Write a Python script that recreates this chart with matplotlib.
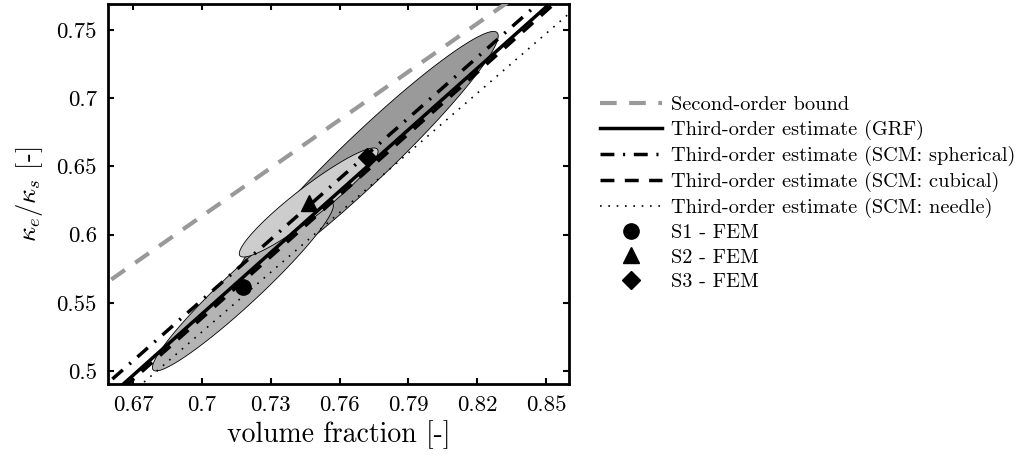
"""Effective conductivity vs volume fraction: bounds, estimates and FEM results."""

import numpy as np
import matplotlib

matplotlib.use("Agg")
import matplotlib.pyplot as plt

plt.rcParams["font.family"] = "serif"
plt.rcParams["font.serif"] = ["cmr10"]
plt.rcParams["mathtext.fontset"] = "cm"
plt.rcParams["axes.formatter.use_mathtext"] = True

# curves
x_curve = [0.65, 0.70, 0.75, 0.80, 0.85, 0.87]
second_order = [0.5548, 0.6136, 0.6724, 0.7312, 0.7900, 0.8135]
third_grf = [0.4669, 0.5419, 0.6169, 0.6919, 0.7669, 0.7969]
third_spherical = [0.4779, 0.5520, 0.6262, 0.7003, 0.7745, 0.8042]
third_cubical = [0.4639, 0.5389, 0.6139, 0.6889, 0.7639, 0.7939]
third_needle = [0.4558, 0.5287, 0.6016, 0.6745, 0.7474, 0.7766]

# FEM samples: mean point, major half-axis and minor half-axis of the spread
fem_names = ["S1 - FEM", "S2 - FEM", "S3 - FEM"]
fem_x = [0.7178, 0.7465, 0.7720]
fem_y = [0.5618, 0.6235, 0.6570]
major_dx = [0.0391, 0.0300, 0.0567]
major_dy = [0.0611, 0.0390, 0.0910]
minor_dx = [-0.0052, -0.0040, -0.0071]
minor_dy = [0.0095, 0.0088, 0.0133]
fem_markers = ["o", "^", "D"]
fem_fill = ["#b4b4b4", "#cdcdcd", "#9a9a9a"]


def ellipse(i, n=200):
    t = np.linspace(0, 2 * np.pi, n)
    ex = fem_x[i] + major_dx[i] * np.cos(t) + minor_dx[i] * np.sin(t)
    ey = fem_y[i] + major_dy[i] * np.cos(t) + minor_dy[i] * np.sin(t)
    return ex, ey


fig = plt.figure(figsize=(10.23, 4.55), dpi=100)
ax = fig.add_axes([0.1056, 0.156, 0.4506, 0.835])

# spread ellipses: S3 at the back, S1, then S2 on top
for i, z in [(2, 1), (0, 2), (1, 3)]:
    ex, ey = ellipse(i)
    ax.fill(ex, ey, facecolor=fem_fill[i], edgecolor="black", linewidth=0.6, zorder=z)

ax.plot(x_curve, second_order, color="#999999", lw=3, dashes=(4, 3),
        label="Second-order bound", zorder=5)
ax.plot(x_curve, third_grf, color="black", lw=2.5,
        label="Third-order estimate (GRF)", zorder=6)
ax.plot(x_curve, third_spherical, color="black", lw=2.5, dashes=(4, 2.5, 0.6, 2.5),
        label="Third-order estimate (SCM: spherical)", zorder=6)
ax.plot(x_curve, third_cubical, color="black", lw=2.5, dashes=(4, 3),
        label="Third-order estimate (SCM: cubical)", zorder=6)
ax.plot(x_curve, third_needle, color="black", lw=1.2, dashes=(1, 4),
        label="Third-order estimate (SCM: needle)", zorder=6)

for i in range(3):
    ax.plot(fem_x[i], fem_y[i], marker=fem_markers[i], color="black",
            markersize=11 if fem_markers[i] != "D" else 9, linestyle="none",
            label=fem_names[i], zorder=8)

ax.set_xlim(0.659, 0.86)
ax.set_ylim(0.4904, 0.769)
ax.set_xticks([0.67, 0.70, 0.73, 0.76, 0.79, 0.82, 0.85])
ax.set_xticklabels(["0.67", "0.7", "0.73", "0.76", "0.79", "0.82", "0.85"])
ax.set_yticks([0.5, 0.55, 0.6, 0.65, 0.7, 0.75])
ax.set_yticklabels(["0.5", "0.55", "0.6", "0.65", "0.7", "0.75"])
ax.tick_params(direction="in", top=True, right=True, length=4, width=1.5,
               labelsize=16.5, pad=8)
for side in ax.spines.values():
    side.set_linewidth(2)

ax.set_xlabel("volume fraction [-]", fontsize=20, labelpad=4)
ax.set_ylabel(r"$\kappa_e/\kappa_s$ [-]", fontsize=19, labelpad=8)

fig.legend(loc="upper left", bbox_to_anchor=(0.5865, 0.79), frameon=False,
           fontsize=14.7, handlelength=3.05, handletextpad=0.45, labelspacing=0.29,
           numpoints=1, borderpad=0, borderaxespad=0)

fig.savefig("out.png", dpi=100)
